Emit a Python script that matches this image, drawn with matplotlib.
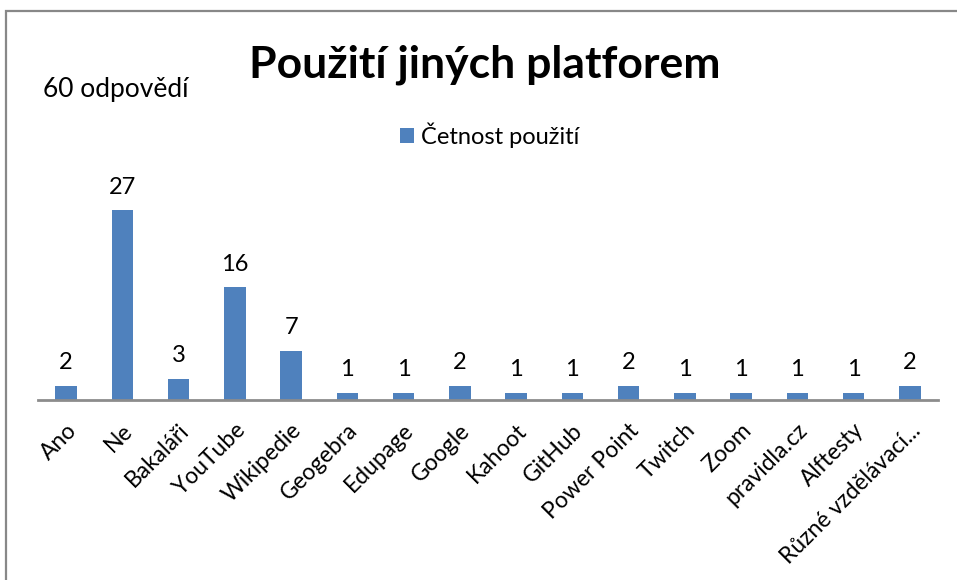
import matplotlib
matplotlib.use("Agg")
import matplotlib.pyplot as plt
from matplotlib.patches import Rectangle
from matplotlib.transforms import ScaledTranslation

plt.rcParams['font.family'] = ['Lato', 'DejaVu Sans']

categories = ["Ano", "Ne", "Bakaláři", "YouTube", "Wikipedie", "Geogebra", "Edupage",
              "Google", "Kahoot", "GitHub", "Power Point", "Twitch", "Zoom",
              "pravidla.cz", "Alftesty", "Různé vzdělávací..."]
values = [2, 27, 3, 16, 7, 1, 1, 2, 1, 1, 2, 1, 1, 1, 1, 2]
series_name = "Četnost použití"
title = "Použití jiných platforem"
note = "60 odpovědí"

W, H = 957, 580
fig = plt.figure(figsize=(W / 100, H / 100), dpi=100)

# outer frame
fig.add_artist(Rectangle((6 / W, -0.1), 1.2, (H - 11) / H + 0.1, transform=fig.transFigure,
                         fill=False, edgecolor='#888888', linewidth=1.6))

ax = fig.add_axes([38 / W, 1 - 400 / H, (938 - 38) / W, (400 - 189) / H])
x = list(range(len(categories)))
bars = ax.bar(x, values, width=0.38, color='#4F81BD', zorder=2)
ax.set_xlim(-0.5, len(categories) - 0.5)
ax.set_ylim(0, 30)
for s in ['top', 'right', 'left']:
    ax.spines[s].set_visible(False)
ax.spines['bottom'].set_color('#8c8c8c')
ax.spines['bottom'].set_linewidth(2)
ax.set_yticks([])
ax.set_xticks(x)
labels = ax.set_xticklabels(categories, rotation=45, ha='right', va='center',
                            rotation_mode='anchor', fontsize=16.5)
ax.tick_params(axis='x', length=0, pad=0)
off = ScaledTranslation(7 / 100, -27 / 100, fig.dpi_scale_trans)
for lab in labels:
    lab.set_transform(lab.get_transform() + off)
ax.patch.set_alpha(0)

for xi, v in zip(x, values):
    ax.annotate(str(v), (xi, v), xytext=(0, 9), textcoords='offset points',
                ha='center', va='bottom', fontsize=17, clip_on=False)

fig.text(485 / W, 1 - 65 / H, title, ha='center', va='center', fontsize=32, fontweight='bold')
fig.text(43 / W, 1 - 90 / H, note, ha='left', va='center', fontsize=19)

ax.legend([bars], [series_name], loc='center', bbox_to_anchor=(490 / W, 1 - 135 / H),
          bbox_transform=fig.transFigure, frameon=False, fontsize=17,
          handlelength=0.6, handleheight=0.6, handletextpad=0.3)

fig.savefig("out.png", dpi=100)
